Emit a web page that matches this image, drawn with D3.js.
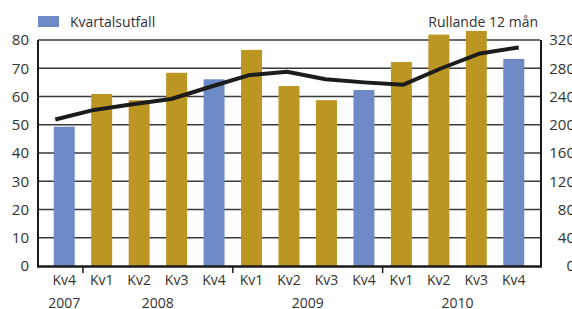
<!DOCTYPE html>
<html>
<head>
<meta charset="utf-8">
<script src="https://cdn.jsdelivr.net/npm/d3@7"></script>
<style>
    body { margin: 0; background: #fff; }
    svg { display: block; }
    text { font-family: "Open Sans", sans-serif; fill: #333; }
</style>
</head>
<body>
<script>
// Quarter labels, year per quarter and the two series
var quarters = ["Kv4", "Kv1", "Kv2", "Kv3", "Kv4", "Kv1", "Kv2", "Kv3",
                "Kv4", "Kv1", "Kv2", "Kv3", "Kv4"];
var years = ["2007", "2008", "2008", "2008", "2008", "2009", "2009", "2009",
             "2009", "2010", "2010", "2010", "2010"];
var quarterly = [49.3, 60.9, 58.7, 68.4, 66.1, 76.5, 63.7, 58.7, 62.3,
                 72.2, 81.9, 83.2, 73.3];
var rolling = [207.5, 221, 229, 236.5, 253.5, 270, 275, 264.5, 260, 256.5,
               280, 301, 309.5];
var leftTicks = [0, 10, 20, 30, 40, 50, 60, 70, 80];
var rightTicks = [0, 40, 80, 120, 160, 200, 240, 280, 320];

var width = 572, height = 309;
var margin = {top: 40, right: 32, bottom: 43, left: 38};
var innerW = width - margin.left - margin.right,
    innerH = height - margin.top - margin.bottom;

var svg = d3.select("body").append("svg")
    .attr("width", width)
    .attr("height", height);

var g = svg.append("g")
    .attr("transform", "translate(" + margin.left + "," + margin.top + ")");

var x = d3.scaleBand()
    .domain(d3.range(quarters.length))
    .range([0, innerW])
    .paddingInner(0.44)
    .paddingOuter(0.42);

//The line's points sit on an unpadded band grid
var xLine = d3.scaleBand()
    .domain(d3.range(quarters.length))
    .range([-2, innerW - 2]);

var yL = d3.scaleLinear().domain([0, 80]).range([innerH, 0]);
var yR = d3.scaleLinear().domain([0, 320]).range([innerH, 0]);

//Grid lines (top one doubles as the frame)
g.selectAll(".grid")
    .data(leftTicks.slice(1))
    .enter().append("line")
    .attr("x1", 0)
    .attr("x2", innerW)
    .attr("y1", function(d) { return yL(d); })
    .attr("y2", function(d) { return yL(d); })
    .attr("stroke", "#3a3a3a")
    .attr("stroke-width", 1.3);

//Bars, Kv4 in blue
g.selectAll(".bar")
    .data(quarterly)
    .enter().append("rect")
    .attr("x", function(d, i) { return x(i); })
    .attr("width", x.bandwidth())
    .attr("y", function(d) { return yL(d); })
    .attr("height", function(d) { return innerH - yL(d); })
    .attr("fill", function(d, i) {
        return quarters[i] === "Kv4" ? "#6d8ac6" : "#bc9623";
    });

//Rolling 12 months line
var line = d3.line()
    .x(function(d, i) { return xLine(i) + xLine.bandwidth() / 2; })
    .y(function(d) { return yR(d); });

g.append("path")
    .datum(rolling)
    .attr("d", line)
    .attr("fill", "none")
    .attr("stroke", "#1c1c1c")
    .attr("stroke-width", 4)
    .attr("stroke-linejoin", "round");

//Axis lines
g.append("line")
    .attr("x1", 0).attr("x2", 0)
    .attr("y1", 0).attr("y2", innerH + 1)
    .attr("stroke", "#1a1a1a").attr("stroke-width", 2);
g.append("line")
    .attr("x1", innerW + 1).attr("x2", innerW + 1)
    .attr("y1", 0).attr("y2", innerH + 1)
    .attr("stroke", "#1a1a1a").attr("stroke-width", 2);
g.append("line")
    .attr("x1", -1).attr("x2", innerW + 2)
    .attr("y1", innerH + 0.5).attr("y2", innerH + 0.5)
    .attr("stroke", "#1a1a1a").attr("stroke-width", 2.5);

//Left tick labels
g.selectAll(".lt")
    .data(leftTicks)
    .enter().append("text")
    .attr("x", -9)
    .attr("y", function(d) { return yL(d); })
    .attr("dy", "0.36em")
    .attr("text-anchor", "end")
    .style("font-size", "15px")
    .text(function(d) { return d; });

//Right tick labels (partly cut by the edge, as in the original)
g.selectAll(".rt")
    .data(rightTicks)
    .enter().append("text")
    .attr("x", innerW + 35)
    .attr("y", function(d) { return yR(d); })
    .attr("dy", "0.36em")
    .attr("text-anchor", "end")
    .style("font-size", "15px")
    .text(function(d) { return d; });

//Quarter labels
g.selectAll(".q")
    .data(quarters)
    .enter().append("text")
    .attr("x", function(d, i) { return x(i) + x.bandwidth() / 2; })
    .attr("y", innerH + 19)
    .attr("text-anchor", "middle")
    .style("font-size", "14px")
    .text(function(d) { return d; });

//Year groups: centre label and separator ticks
var yearNames = Array.from(new Set(years));
yearNames.forEach(function(yr) {
    var idx = d3.range(years.length).filter(function(i) {
        return years[i] === yr;
    });
    var x0 = x(idx[0]) + x.bandwidth() / 2,
        x1 = x(idx[idx.length - 1]) + x.bandwidth() / 2;
    g.append("text")
        .attr("x", (x0 + x1) / 2)
        .attr("y", innerH + 42)
        .attr("text-anchor", "middle")
        .style("font-size", "14px")
        .text(yr);
    if (idx[0] > 0) {
        var sx = x(idx[0]) - x.step() * x.paddingInner() / 2;
        g.append("line")
            .attr("x1", sx).attr("x2", sx)
            .attr("y1", innerH).attr("y2", innerH + 7)
            .attr("stroke", "#1a1a1a").attr("stroke-width", 1.5);
    }
});

//Legend
svg.append("rect")
    .attr("x", 38).attr("y", 16)
    .attr("width", 21).attr("height", 11)
    .attr("fill", "#6d8ac6");
svg.append("text")
    .attr("x", 70).attr("y", 27)
    .style("font-size", "14px")
    .text("Kvartalsutfall");
svg.append("text")
    .attr("x", 538).attr("y", 27)
    .attr("text-anchor", "end")
    .style("font-size", "14px")
    .text("Rullande 12 mån");
</script>
</body>
</html>
